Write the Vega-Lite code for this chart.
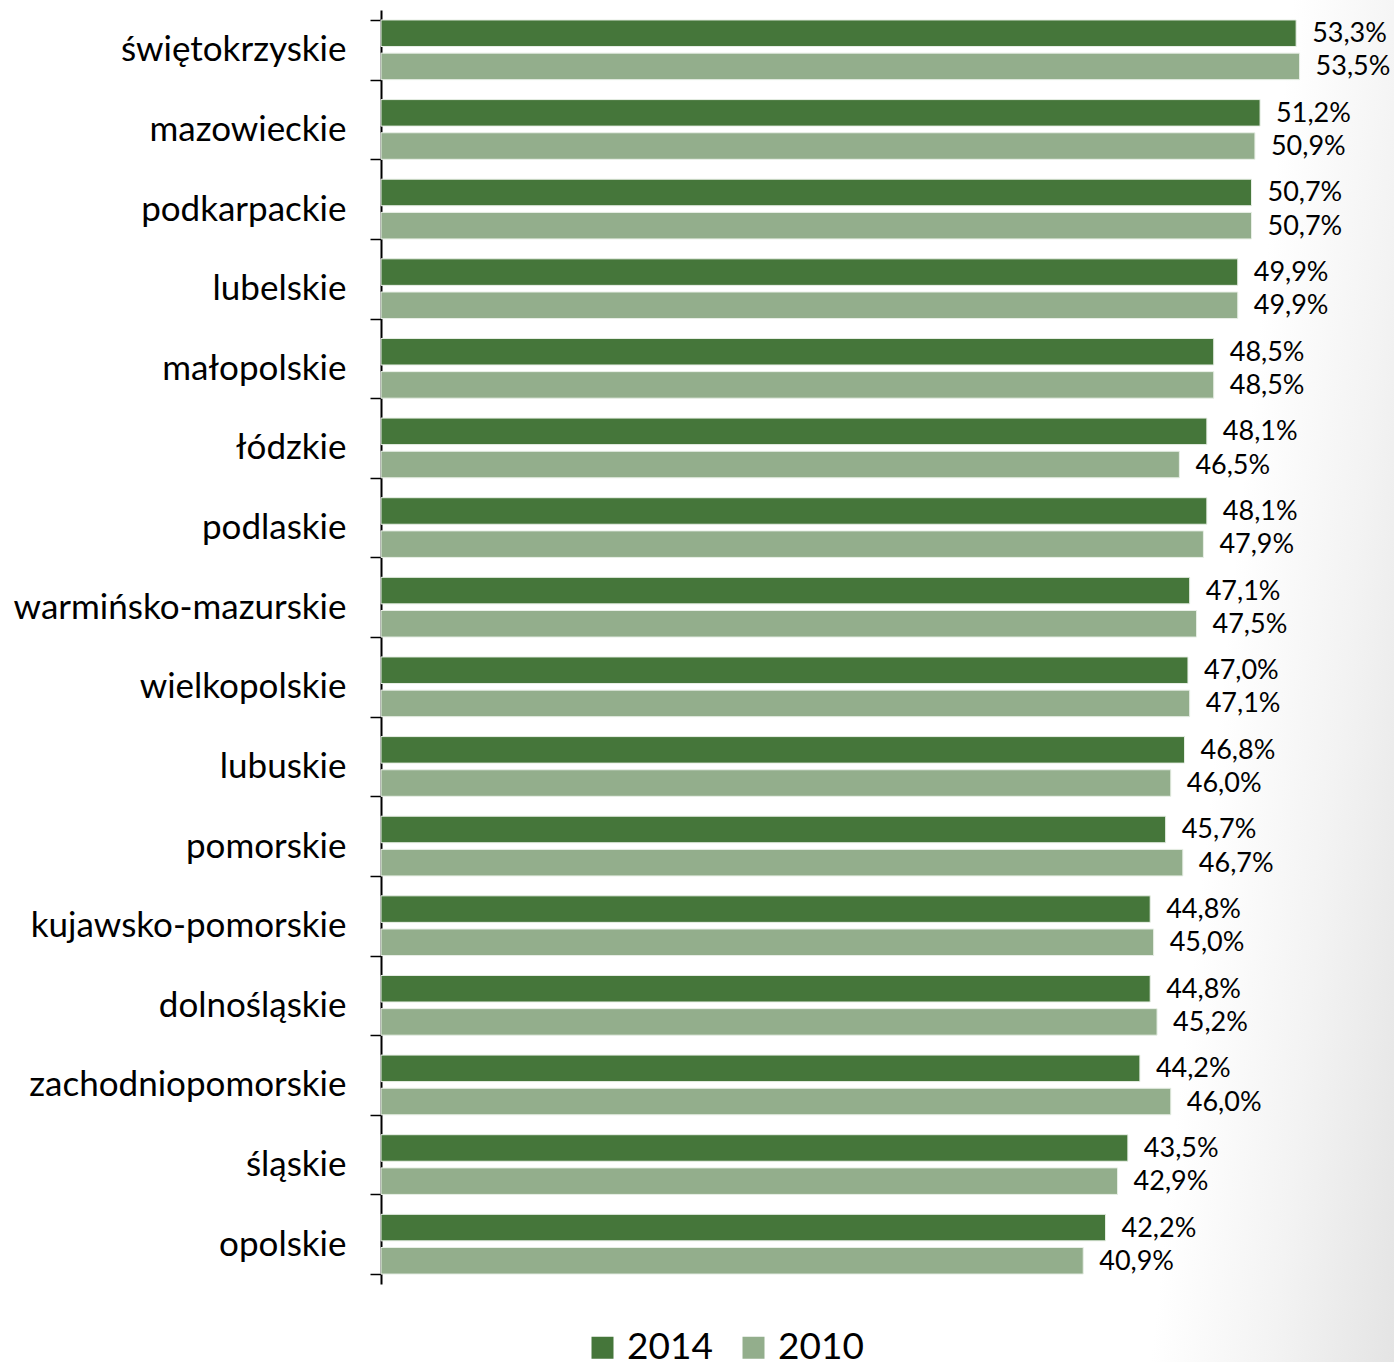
{
  "$schema": "https://vega.github.io/schema/vega-lite/v6.json",
  "autosize": "none",
  "width": 1013,
  "height": 1362,
  "padding": {"left": 381, "top": 0, "right": 0, "bottom": 0},
  "background": "white",
  "config": {
    "locale": {"number": {"decimal": ",", "thousands": " ", "grouping": [3], "currency": ["", " zł"]}},
    "view": {
      "stroke": null,
      "fill": {
        "gradient": "linear",
        "x1": 0.76, "y1": 1, "x2": 0.995, "y2": 1.033,
        "stops": [
          {"offset": 0, "color": "#ffffff"},
          {"offset": 0.5, "color": "#f3f3f3"},
          {"offset": 1, "color": "#e4e4e4"}
        ]
      }
    },
    "font": "Lato"
  },
  "data": {
    "values": [
      {"region": "świętokrzyskie", "year": "2014", "value": 0.533},
      {"region": "świętokrzyskie", "year": "2010", "value": 0.535},
      {"region": "mazowieckie", "year": "2014", "value": 0.512},
      {"region": "mazowieckie", "year": "2010", "value": 0.509},
      {"region": "podkarpackie", "year": "2014", "value": 0.507},
      {"region": "podkarpackie", "year": "2010", "value": 0.507},
      {"region": "lubelskie", "year": "2014", "value": 0.499},
      {"region": "lubelskie", "year": "2010", "value": 0.499},
      {"region": "małopolskie", "year": "2014", "value": 0.485},
      {"region": "małopolskie", "year": "2010", "value": 0.485},
      {"region": "łódzkie", "year": "2014", "value": 0.481},
      {"region": "łódzkie", "year": "2010", "value": 0.465},
      {"region": "podlaskie", "year": "2014", "value": 0.481},
      {"region": "podlaskie", "year": "2010", "value": 0.479},
      {"region": "warmińsko-mazurskie", "year": "2014", "value": 0.471},
      {"region": "warmińsko-mazurskie", "year": "2010", "value": 0.475},
      {"region": "wielkopolskie", "year": "2014", "value": 0.470},
      {"region": "wielkopolskie", "year": "2010", "value": 0.471},
      {"region": "lubuskie", "year": "2014", "value": 0.468},
      {"region": "lubuskie", "year": "2010", "value": 0.460},
      {"region": "pomorskie", "year": "2014", "value": 0.457},
      {"region": "pomorskie", "year": "2010", "value": 0.467},
      {"region": "kujawsko-pomorskie", "year": "2014", "value": 0.448},
      {"region": "kujawsko-pomorskie", "year": "2010", "value": 0.450},
      {"region": "dolnośląskie", "year": "2014", "value": 0.448},
      {"region": "dolnośląskie", "year": "2010", "value": 0.452},
      {"region": "zachodniopomorskie", "year": "2014", "value": 0.442},
      {"region": "zachodniopomorskie", "year": "2010", "value": 0.460},
      {"region": "śląskie", "year": "2014", "value": 0.435},
      {"region": "śląskie", "year": "2010", "value": 0.429},
      {"region": "opolskie", "year": "2014", "value": 0.422},
      {"region": "opolskie", "year": "2010", "value": 0.409}
    ]
  },
  "encoding": {
    "y": {
      "field": "region",
      "type": "nominal",
      "sort": null,
      "scale": {"paddingInner": 0.25, "paddingOuter": 0.125, "range": [10, 1284]},
      "axis": {
        "title": null,
        "tickBand": "extent",
        "tickSize": 11,
        "tickColor": "black",
        "tickWidth": 1.5,
        "domainColor": "black",
        "domainWidth": 2,
        "labelFont": "Lato",
        "labelFontSize": 35,
        "labelColor": "black",
        "labelPadding": 24,
        "labelLimit": 400
      }
    },
    "yOffset": {
      "field": "year",
      "type": "nominal",
      "sort": ["2014", "2010"],
      "scale": {"paddingInner": 0.2, "paddingOuter": 0}
    },
    "x": {
      "field": "value",
      "type": "quantitative",
      "scale": {"domain": [0, 0.59], "nice": false, "zero": true},
      "axis": null
    }
  },
  "layer": [
    {
      "mark": {"type": "bar", "stroke": "#e8efe6", "strokeWidth": 1},
      "encoding": {
        "color": {
          "field": "year",
          "type": "nominal",
          "scale": {"domain": ["2014", "2010"], "range": ["#45763A", "#93AE8C"]},
          "legend": {
            "title": null,
            "orient": "none",
            "direction": "horizontal",
            "legendX": 203,
            "legendY": 1329,
            "symbolType": "square",
            "symbolSize": 484,
            "symbolStrokeWidth": 0,
            "labelFontSize": 37,
            "labelFont": "Lato",
            "labelColor": "black",
            "labelOffset": 6,
            "columnPadding": 22,
            "padding": 0
          }
        }
      }
    },
    {
      "mark": {"type": "text", "align": "left", "baseline": "middle", "dx": 16, "dy": 1, "fontSize": 27, "font": "Lato", "color": "black"},
      "encoding": {
        "text": {"field": "value", "type": "quantitative", "format": ".1%"}
      }
    }
  ]
}
